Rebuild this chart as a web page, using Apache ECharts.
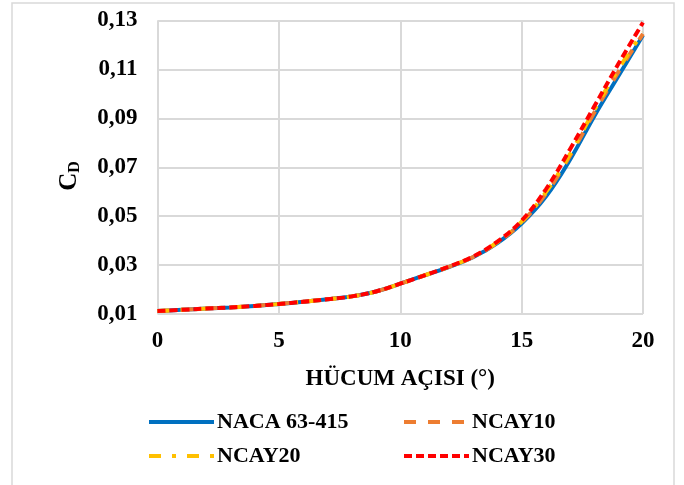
<!DOCTYPE html>
<html>
<head>
<meta charset="utf-8">
<script src="https://cdn.jsdelivr.net/npm/echarts@6/dist/echarts.min.js"></script>
<style>
html,body{margin:0;padding:0;background:#fff;}
#chart{width:684px;height:485px;}
</style>
</head>
<body>
<div id="chart"></div>
<script>
// Angle of attack (degrees)
var angles = [0,1,2,3,4,5,6,7,8,9,10,11,12,13,14,15,16,17,18,19,20];
// Drag coefficient values
var naca63415 = [0.0112,0.0117,0.0122,0.0127,0.0133,0.0141,0.0150,0.0160,0.0172,0.0192,0.0224,0.0258,0.0292,0.0332,0.0390,0.0470,0.0580,0.0732,0.0910,0.1075,0.1240];
var ncay10    = [0.0112,0.0117,0.0122,0.0127,0.0133,0.0141,0.0150,0.0160,0.0172,0.0192,0.0224,0.0258,0.0293,0.0333,0.0392,0.0475,0.0592,0.0748,0.0925,0.1092,0.1245];
var ncay20    = [0.0112,0.0117,0.0122,0.0127,0.0133,0.0141,0.0150,0.0160,0.0172,0.0192,0.0224,0.0258,0.0293,0.0334,0.0394,0.0478,0.0598,0.0755,0.0935,0.1103,0.1252];
var ncay30    = [0.0112,0.0117,0.0122,0.0127,0.0133,0.0141,0.0150,0.0160,0.0172,0.0192,0.0224,0.0258,0.0294,0.0335,0.0396,0.0482,0.0610,0.0775,0.0950,0.1125,0.1292];
var seriesNames = ['NACA 63-415','NCAY10','NCAY20','NCAY30'];
var yTicks = [0.01,0.03,0.05,0.07,0.09,0.11,0.13];
var xTicks = [0,5,10,15,20];

function pairs(ys){ return angles.map(function(a,i){ return [a, ys[i]]; }); }

var FONT = "'Liberation Serif','Times New Roman',serif";
var chart = echarts.init(document.getElementById('chart'), null, {renderer:'canvas'});

var styles = [
  {color:'#0070C0', type:'solid'},
  {color:'#ED7D31', type:[12,12]},
  {color:'#FFC000', type:[12,11,4,11]},
  {color:'#FF0000', type:[8,4]}
];
var datasets = [naca63415, ncay10, ncay20, ncay30];

var legendPos = [[142,406],[397,406],[142,440],[397,440]];

var option = {
  animation:false,
  backgroundColor:'#fff',
  grid:{left:157.5, right:41, top:20.5, bottom:171, containLabel:false, outerBoundsMode:'none'},
  xAxis:{
    type:'value', min:xTicks[0], max:xTicks[xTicks.length-1], interval:5,
    name:'HÜCUM AÇISI (°)', nameLocation:'middle', nameGap:54,
    nameTextStyle:{fontFamily:FONT, fontWeight:'bold', fontSize:23, color:'#000'},
    axisLine:{show:false}, axisTick:{show:false},
    axisLabel:{fontFamily:FONT, fontWeight:'bold', fontSize:23, color:'#000', margin:16},
    splitLine:{show:true, lineStyle:{color:'#D9D9D9', width:2}}
  },
  yAxis:{
    type:'value', min:yTicks[0], max:yTicks[yTicks.length-1], interval:0.02,
    axisLine:{show:false}, axisTick:{show:false},
    axisLabel:{fontFamily:FONT, fontWeight:'bold', fontSize:23, color:'#000', margin:20,
      formatter:function(v){ return v.toFixed(2).replace('.', ','); }},
    splitLine:{show:true, lineStyle:{color:'#D9D9D9', width:2}}
  },
  legend: legendPos.map(function(p,i){
    return {data:[seriesNames[i]], left:p[0], top:p[1], itemWidth:65, itemHeight:14, itemGap:0,
      itemStyle:{opacity:0}, lineStyle:{width:4},
      textStyle:{fontFamily:FONT, fontWeight:'bold', fontSize:22, color:'#000', padding:[0,0,0,-2]}};
  }),
  graphic:[
    {type:'rect', shape:{x:12, y:3, width:662, height:500}, style:{fill:'none', stroke:'#D9D9D9', lineWidth:1.5}, silent:true},
    {type:'text', x:70, y:176, rotation:Math.PI/2,
      style:{text:'{c|C}{d|D}', align:'center', verticalAlign:'middle',
        rich:{c:{fontFamily:FONT, fontWeight:'bold', fontSize:25, fill:'#000'},
              d:{fontFamily:FONT, fontWeight:'bold', fontSize:16, fill:'#000', padding:[10,0,0,0]}}}}
  ],
  series: datasets.map(function(d,i){
    return {name:seriesNames[i], type:'line', data:pairs(d), smooth:0.4, symbol:'none',
      lineStyle:{color:styles[i].color, width:4, type:styles[i].type},
      itemStyle:{color:styles[i].color}, z:2+i};
  })
};
chart.setOption(option);
</script>
</body>
</html>
